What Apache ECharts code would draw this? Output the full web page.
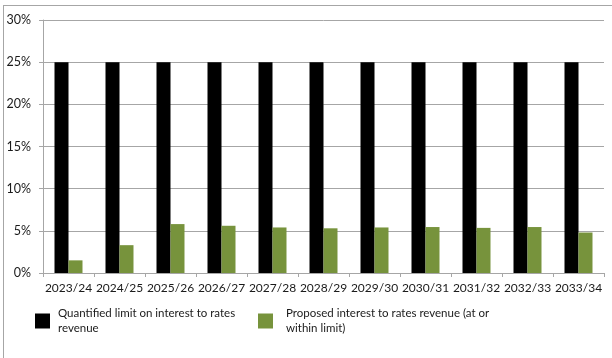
<!DOCTYPE html>
<html>
<head>
<meta charset="utf-8">
<script src="https://cdn.jsdelivr.net/npm/echarts@6/dist/echarts.min.js"></script>
<style>
html,body{margin:0;padding:0;background:#fff;}
#chart{width:612px;height:358px;position:relative;}
#frame{position:absolute;left:3px;top:5px;right:0;bottom:0;border-top:1px solid #a6a6a6;border-left:1px solid #a6a6a6;pointer-events:none;}
</style>
</head>
<body>
<div id="chart"></div>
<div id="frame"></div>
<script>
const categories = ['2023/24','2024/25','2025/26','2026/27','2027/28','2028/29','2029/30','2030/31','2031/32','2032/33','2033/34'];
const limitValues = [25,25,25,25,25,25,25,25,25,25,25];
const proposedValues = [1.5,3.3,5.8,5.6,5.4,5.3,5.4,5.45,5.35,5.45,4.8];
const seriesNames = ['Quantified limit on interest to rates revenue','Proposed interest to rates revenue (at or within limit)'];
const legendLabels = ['Quantified limit on interest to rates\nrevenue','Proposed interest to rates revenue (at or\nwithin limit)'];
const yTicks = [0,5,10,15,20,25,30];

const chart = echarts.init(document.getElementById('chart'), null, {renderer:'canvas'});
const font = 'Lato';
const txt = '#1a1a1a';
chart.setOption({
  animation:false,
  textStyle:{fontFamily:font},
  grid:{left:43,right:8,top:20,bottom:85,containLabel:false},
  legend:[
    {data:[seriesNames[0]],left:35,top:301,padding:0,itemWidth:15,itemHeight:15,icon:'rect',
     formatter:()=>legendLabels[0],textStyle:{fontFamily:font,fontSize:11.5,color:txt,lineHeight:15,padding:[10,0,0,3]}},
    {data:[seriesNames[1]],left:258,top:301,padding:0,itemWidth:15,itemHeight:15,icon:'rect',
     formatter:()=>legendLabels[1],textStyle:{fontFamily:font,fontSize:11.5,color:txt,lineHeight:15,padding:[10,0,0,8]}}
  ],
  xAxis:{
    type:'category',data:categories,
    axisLine:{lineStyle:{color:'#a6a6a6'}},
    axisTick:{show:true,length:4,lineStyle:{color:'#a6a6a6'}},
    axisLabel:{fontFamily:font,fontSize:12,color:txt,margin:9,interval:0}
  },
  yAxis:{
    type:'value',min:0,max:30,interval:5,
    axisLine:{show:true,lineStyle:{color:'#a6a6a6'}},
    axisTick:{show:true,length:4,lineStyle:{color:'#a6a6a6'}},
    splitLine:{lineStyle:{color:'#a6a6a6'}},
    axisLabel:{fontFamily:font,fontSize:12.5,color:txt,margin:12,
      formatter:v=>yTicks.includes(v)?v+'%':''}
  },
  series:[
    {name:seriesNames[0],type:'bar',data:limitValues,barWidth:14,barGap:'0%',
     itemStyle:{color:'#000000'}},
    {name:seriesNames[1],type:'bar',data:proposedValues,barWidth:14,
     itemStyle:{color:'#77933c'}}
  ]
});
</script>
</body>
</html>
